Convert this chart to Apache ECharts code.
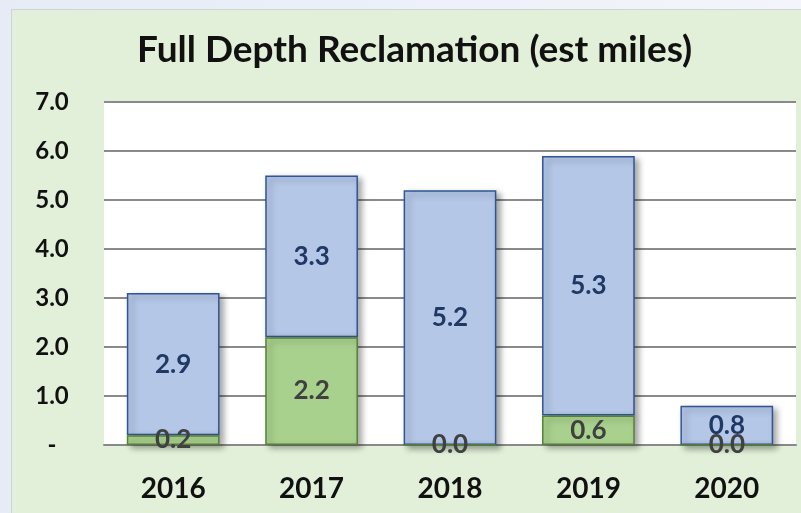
<!DOCTYPE html>
<html>
<head>
<meta charset="utf-8">
<script src="https://cdn.jsdelivr.net/npm/echarts@6/dist/echarts.min.js"></script>
<style>
  html, body { margin: 0; padding: 0; width: 801px; height: 513px; overflow: hidden;
    background: linear-gradient(90deg, #e6ebf6 0%, #f3f5fb 100%); }
  #chart { position: absolute; left: 11px; top: 9px; width: 790px; height: 504px;
    background: #e2efd9; border-left: 1px solid #cfd4dc; border-top: 1px solid #cfd4dc; }
</style>
</head>
<body>
<div id="chart"></div>
<script>
// Estimated miles of full depth reclamation per year
const years = ['2016', '2017', '2018', '2019', '2020'];
const greenMiles = [0.2, 2.2, 0.0, 0.6, 0.0];
const blueMiles = [2.9, 3.3, 5.2, 5.3, 0.8];
const yTicks = [0, 1, 2, 3, 4, 5, 6, 7];

const FONT = 'Lato';
const barShadow = {
  shadowColor: 'rgba(0,0,0,0.35)',
  shadowBlur: 6,
  shadowOffsetX: 4,
  shadowOffsetY: 3
};

const chart = echarts.init(document.getElementById('chart'), null, { renderer: 'canvas' });
chart.setOption({
  animation: false,
  backgroundColor: '#e2efd9',
  title: {
    text: 'Full Depth Reclamation (est miles)',
    left: 120,
    top: 17,
    textStyle: { fontFamily: FONT, fontWeight: 'bold', fontSize: 37, color: '#111' }
  },
  grid: { left: 92, right: 6, top: 92, bottom: 69, containLabel: false,
    show: true, backgroundColor: '#ffffff', borderWidth: 0 },
  xAxis: {
    type: 'category',
    data: years,
    axisTick: { show: false },
    axisLine: { lineStyle: { color: '#8a8a8a', width: 2 } },
    axisLabel: { margin: 30, fontFamily: FONT, fontWeight: 'bold', fontSize: 28, color: '#111' }
  },
  yAxis: {
    type: 'value',
    min: 0,
    max: yTicks[yTicks.length - 1],
    interval: 1,
    axisLine: { show: false },
    axisTick: { show: false },
    splitLine: { lineStyle: { color: '#8a8a8a', width: 2 } },
    axisLabel: {
      margin: 52,
      align: 'center',
      fontFamily: FONT, fontWeight: 'bold', fontSize: 24, color: '#111',
      formatter: v => (yTicks.includes(v) ? (v === 0 ? '-' : v.toFixed(1)) : '')
    }
  },
  series: [
    {
      name: 'green',
      type: 'bar',
      stack: 'miles',
      barWidth: '67%',
      data: greenMiles,
      itemStyle: Object.assign({ color: '#a9d18e', borderColor: '#548235', borderWidth: 1.5 }, barShadow),
      label: {
        show: true, position: 'inside',
        formatter: p => p.value.toFixed(1),
        fontFamily: FONT, fontWeight: 'bold', fontSize: 26, color: '#404040'
      },
      z: 3
    },
    {
      name: 'blue',
      type: 'bar',
      stack: 'miles',
      barWidth: '67%',
      data: blueMiles,
      itemStyle: Object.assign({ color: '#b4c7e7', borderColor: '#2f5597', borderWidth: 1.5 }, barShadow),
      label: {
        show: true, position: 'inside',
        formatter: p => p.value.toFixed(1),
        fontFamily: FONT, fontWeight: 'bold', fontSize: 26, color: '#203864'
      },
      z: 2
    }
  ]
});
</script>
</body>
</html>
